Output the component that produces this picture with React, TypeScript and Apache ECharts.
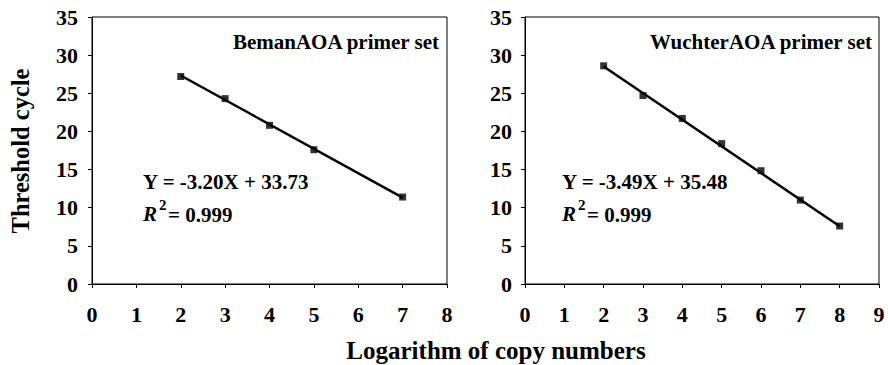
import React, { useEffect, useRef } from "react";
import * as echarts from "echarts";

// Left panel: BemanAOA primer set
const leftX = [2, 3, 4, 5, 7];
const leftCt = [27.2, 24.3, 20.8, 17.6, 11.4];
const leftTrend = [
  [2, 27.33],
  [7, 11.33],
];
const leftTitle = "BemanAOA primer set";
const leftEq = "Y = -3.20X + 33.73";
const leftR2 = "= 0.999";

// Right panel: WuchterAOA primer set
const rightX = [2, 3, 4, 5, 6, 7, 8];
const rightCt = [28.6, 24.7, 21.7, 18.4, 14.85, 11.0, 7.6];
const rightTrend = [
  [2, 28.5],
  [8, 7.56],
];
const rightTitle = "WuchterAOA primer set";
const rightEq = "Y = -3.49X + 35.48";
const rightR2 = "= 0.999";

const yTitle = "Threshold cycle";
const xTitle = "Logarithm of copy numbers";

const FONT = "Liberation Serif";

export default function App() {
  const ref = useRef<HTMLDivElement>(null);

  useEffect(() => {
    if (!ref.current) return;
    const chart = echarts.init(ref.current, undefined, { renderer: "svg" });

    const axisLine = { show: true, lineStyle: { color: "#000", width: 1 } };
    const axisTick = { show: true, inside: false, length: 4, lineStyle: { color: "#000", width: 1 } };
    const labelStyle = { color: "#000", fontFamily: FONT, fontWeight: "bold" as const, fontSize: 22 };

    const mkX = (gi: number, max: number) => ({
      type: "value",
      gridIndex: gi,
      min: 0,
      max,
      interval: 1,
      axisLine: { ...axisLine, onZero: false },
      axisTick,
      splitLine: { show: false },
      axisLabel: { ...labelStyle, margin: 19 },
    });
    const mkY = (gi: number, margin: number) => ({
      type: "value",
      gridIndex: gi,
      min: 0,
      max: 35,
      interval: 5,
      axisLine,
      axisTick,
      splitLine: { show: false },
      axisLabel: { ...labelStyle, margin },
    });

    const txt = (x: number, y: number, text: string, size: number, align: string, extra: any = {}) => ({
      type: "text",
      x,
      y,
      style: {
        text,
        fill: "#000",
        fontFamily: FONT,
        fontWeight: "bold",
        fontStyle: extra.italic ? "italic" : "normal",
        fontSize: size,
        textAlign: align,
        textVerticalAlign: "middle",
      },
      ...(extra.rotation ? { rotation: extra.rotation } : {}),
    });

    const eqBlock = (x: number, eq: string, r2: string) => [
      txt(x, 181.5, eq, 21, "left"),
      txt(x, 214, "R", 21, "left", { italic: true }),
      txt(x + 16, 205, "2", 15, "left"),
      txt(x + 25, 214.5, r2, 21, "left"),
    ];

    chart.setOption({
      animation: false,
      backgroundColor: "#fff",
      grid: [
        { left: 92, top: 17, width: 355, height: 267, show: true, borderColor: "#000", borderWidth: 1 },
        { left: 525, top: 17, width: 354, height: 267, show: true, borderColor: "#000", borderWidth: 1 },
      ],
      xAxis: [mkX(0, 8), mkX(1, 9)],
      yAxis: [mkY(0, 14), mkY(1, 13)],
      series: [
        {
          type: "line",
          xAxisIndex: 0,
          yAxisIndex: 0,
          data: leftTrend,
          symbol: "none",
          lineStyle: { color: "#000", width: 2.5 },
        },
        {
          type: "scatter",
          xAxisIndex: 0,
          yAxisIndex: 0,
          data: leftX.map((x, i) => [x, leftCt[i]]),
          symbol: "rect",
          symbolSize: 7,
          itemStyle: { color: "#000" },
        },
        {
          type: "line",
          xAxisIndex: 1,
          yAxisIndex: 1,
          data: rightTrend,
          symbol: "none",
          lineStyle: { color: "#000", width: 2.5 },
        },
        {
          type: "scatter",
          xAxisIndex: 1,
          yAxisIndex: 1,
          data: rightX.map((x, i) => [x, rightCt[i]]),
          symbol: "rect",
          symbolSize: 7,
          itemStyle: { color: "#000" },
        },
      ],
      graphic: [
        txt(439, 42, leftTitle, 21, "right"),
        txt(872, 42, rightTitle, 21, "right"),
        ...eqBlock(143, leftEq, leftR2),
        ...eqBlock(562, rightEq, rightR2),
        txt(20, 151, yTitle, 24.5, "center", { rotation: Math.PI / 2 }),
        txt(496, 350, xTitle, 25, "center"),
      ],
    });

    return () => chart.dispose();
  }, []);

  return (
    <div
      ref={ref}
      style={{ position: "absolute", left: 0, top: 0, width: 888, height: 365, background: "#fff" }}
    />
  );
}
